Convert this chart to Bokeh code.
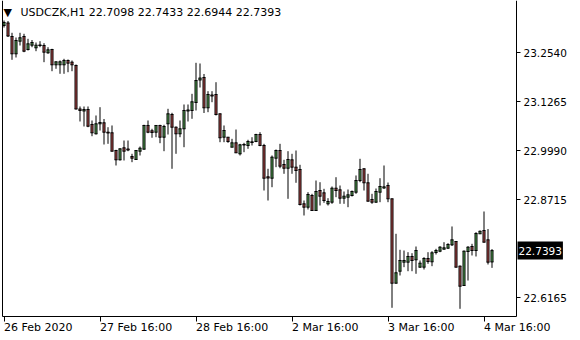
from bokeh.plotting import figure
from bokeh.models import (Range1d, FixedTicker, PrintfTickFormatter, ColumnDataSource,
                          LabelSet, Label, LinearAxis)
from bokeh.core.properties import value
from bokeh.embed import file_html
from bokeh.resources import INLINE

symbol_title = "USDCZK,H1  22.7098 22.7433 22.6944 22.7393"

opens = [23.3251, 23.3316, 23.2964, 23.2514, 23.2842, 23.2964, 23.2626, 23.2738, 23.2670, 23.2730,
         23.2730, 23.2540, 23.2626, 23.2228, 23.2228, 23.2228, 23.2340, 23.2296, 23.2210, 23.1078,
         23.1026, 23.1065, 23.0675, 23.0433, 23.0693, 23.0719, 23.0474, 23.0459, 22.9998, 22.9756,
         23.0068, 23.0037, 22.9842, 22.9764, 22.9980, 23.0032, 23.0649, 23.0511, 23.0474, 23.0649,
         23.0344, 23.0693, 23.0935, 23.0604, 23.0433, 23.0563, 23.1026, 23.1039, 23.1247, 23.1832,
         23.1897, 23.1109, 23.1442, 23.1455, 23.0953, 23.0344, 23.0344, 23.0084, 23.0198, 22.9912,
         23.0141, 23.0128, 23.0206, 23.0232, 23.0414, 23.0128, 22.9314, 22.9277, 22.9798, 22.9998,
         22.9634, 22.9537, 22.9756, 22.9564, 22.9504, 22.8611, 22.8523, 22.8827, 22.8437, 22.8957,
         22.8897, 22.8611, 22.8653, 22.9017, 22.8975, 22.8757, 22.8783, 22.8827, 22.8913, 22.9217,
         22.9522, 22.9158, 22.8723, 22.8653, 22.8913, 22.9022, 22.9087, 22.8741, 22.6545, 22.6857,
         22.7092, 22.7092, 22.7240, 22.7154, 22.6962, 22.6962, 22.7188, 22.7102, 22.7344, 22.7378,
         22.7430, 22.7456, 22.7544, 22.7630, 22.6988, 22.6485, 22.7370, 22.7500, 22.7396, 22.7831,
         22.7916, 22.7674, 22.7098]
highs = [23.3381, 23.3368, 23.3061, 23.2938, 23.3061, 23.3035, 23.2904, 23.2873, 23.2808, 23.2842,
         23.2790, 23.2686, 23.2644, 23.2314, 23.2340, 23.2384, 23.2366, 23.2340, 23.2236, 23.1143,
         23.1143, 23.1143, 23.0779, 23.0909, 23.1125, 23.0818, 23.0604, 23.0649, 23.0016, 23.0050,
         23.0258, 23.0258, 22.9912, 22.9998, 23.0102, 23.0667, 23.0779, 23.0563, 23.0649, 23.0667,
         23.0667, 23.1083, 23.0979, 23.0623, 23.0779, 23.1195, 23.1195, 23.1473, 23.2280, 23.2262,
         23.1989, 23.1541, 23.1541, 23.1775, 23.0961, 23.0649, 23.0349, 23.0302, 23.0544, 23.0172,
         23.0198, 23.0277, 23.0344, 23.0433, 23.0474, 23.0172, 22.9522, 22.9868, 23.0024, 23.0172,
         22.9756, 22.9980, 22.9912, 22.9998, 22.9626, 22.8697, 22.8913, 22.8871, 22.9217, 22.9173,
         22.9001, 22.8757, 22.9061, 22.9303, 22.9087, 22.8931, 22.8983, 22.8957, 22.9348, 22.9782,
         22.9537, 22.9392, 22.8871, 22.9009, 22.9277, 22.9608, 22.9165, 22.8749, 22.7831, 22.7414,
         22.7396, 22.7352, 22.7326, 22.7500, 22.7136, 22.7222, 22.7352, 22.7378, 22.7440, 22.7508,
         22.7612, 22.7586, 22.8021, 22.7643, 22.7006, 22.7396, 22.7508, 22.7570, 22.7872, 22.7916,
         22.8411, 22.7955, 22.7433]
lows = [23.3198, 23.2951, 23.2358, 23.2418, 23.2730, 23.2556, 23.2600, 23.2686, 23.2582, 23.2686,
        23.2296, 23.2514, 23.2061, 23.2124, 23.1994, 23.1994, 23.2035, 23.2061, 23.1065, 23.0753,
        23.0623, 23.0604, 23.0370, 23.0414, 23.0518, 23.0154, 23.0172, 22.9972, 22.9608, 22.9738,
        22.9738, 22.9980, 22.9694, 22.9756, 22.9868, 23.0024, 23.0448, 23.0329, 23.0344, 23.0188,
        22.9980, 23.0414, 22.9522, 22.9912, 23.0344, 23.0084, 23.0753, 23.0823, 23.1039, 23.1637,
        23.0974, 23.0995, 23.1255, 23.0909, 23.0214, 23.0214, 23.0198, 23.0084, 22.9933, 22.9868,
        22.9954, 23.0042, 23.0128, 23.0214, 23.0110, 22.8957, 22.8697, 22.9043, 22.9564, 22.9537,
        22.9392, 22.8741, 22.9392, 22.9158, 22.8567, 22.8307, 22.8463, 22.8424, 22.8424, 22.8567,
        22.8637, 22.8567, 22.8611, 22.8783, 22.8611, 22.8611, 22.8523, 22.8801, 22.8871, 22.9173,
        22.8957, 22.8671, 22.8611, 22.8637, 22.8653, 22.9001, 22.8653, 22.5905, 22.6537, 22.6746,
        22.6962, 22.6857, 22.6857, 22.6790, 22.6946, 22.6902, 22.7050, 22.6988, 22.7292, 22.7352,
        22.7422, 22.7440, 22.7513, 22.6954, 22.5879, 22.6472, 22.6615, 22.7266, 22.7240, 22.7825,
        22.7604, 22.7032, 22.6944]
closes = [23.3329, 23.2977, 23.2514, 23.2860, 23.2931, 23.2582, 23.2774, 23.2808, 23.2738, 23.2743,
          23.2556, 23.2618, 23.2228, 23.2306, 23.2306, 23.2340, 23.2270, 23.2228, 23.1078, 23.1039,
          23.1065, 23.0630, 23.0459, 23.0693, 23.0727, 23.0474, 23.0453, 22.9980, 22.9756, 23.0042,
          22.9980, 23.0011, 22.9798, 22.9998, 23.0058, 23.0649, 23.0474, 23.0466, 23.0649, 23.0344,
          23.0623, 23.0953, 23.0604, 23.0433, 23.0563, 23.1039, 23.1052, 23.1265, 23.1819, 23.1884,
          23.1109, 23.1455, 23.1416, 23.0935, 23.0329, 23.0518, 23.0232, 23.0198, 22.9938, 23.0146,
          23.0154, 23.0232, 23.0224, 23.0414, 23.0128, 22.9277, 22.9282, 22.9824, 22.9998, 22.9590,
          22.9537, 22.9764, 22.9564, 22.9478, 22.8593, 22.8523, 22.8853, 22.8437, 22.8931, 22.8809,
          22.8697, 22.8671, 22.9017, 22.8957, 22.8757, 22.8809, 22.8845, 22.8931, 22.9217, 22.9504,
          22.9158, 22.8679, 22.8653, 22.8931, 22.9061, 22.9053, 22.8741, 22.6545, 22.6816, 22.7136,
          22.7136, 22.7240, 22.7136, 22.7396, 22.7066, 22.7188, 22.7110, 22.7336, 22.7396, 22.7482,
          22.7466, 22.7552, 22.7674, 22.6962, 22.6467, 22.7378, 22.7482, 22.7396, 22.7838, 22.7896,
          22.7612, 22.7092, 22.7393]

time_tick_bars = [0, 24, 48, 72, 96, 120]
time_tick_labels = ["26 Feb 2020", "27 Feb 16:00", "28 Feb 16:00", "2 Mar 16:00", "3 Mar 16:00", "4 Mar 16:00"]
price_ticks = [23.2540, 23.1265, 22.9990, 22.8715, 22.6165]
last_price = closes[-1]

# visible chart window (bars / prices) inside the MT4-like frame
bar_lo, bar_hi = -0.375, 128.125
price_lo, price_hi = 22.5679, 23.3901
half_body = 0.25  # body half width in bar units (3 px wide candle body)

BULL = "#33DD33"
BEAR = "#FF2020"
FONT = "DejaVu Sans"

idx = list(range(len(opens)))
src = ColumnDataSource(dict(
    x=idx,
    xl=[i - half_body for i in idx],
    xr=[i + half_body for i in idx],
    o=opens, h=highs, l=lows, c=closes,
    top=[max(a, b) for a, b in zip(opens, closes)],
    bot=[min(a, b) for a, b in zip(opens, closes)],
    col=[BULL if c >= o else BEAR for o, c in zip(opens, closes)],
))

# the frame covers the whole canvas; axes are pinned at the chart window edges
p = figure(width=580, height=340, output_backend="svg", toolbar_location=None,
           x_range=Range1d(-0.875, 144.125), y_range=Range1d(22.50543, 23.3901),
           x_axis_type=None, y_axis_type=None,
           min_border_left=0, min_border_right=0, min_border_top=0, min_border_bottom=0)
p.background_fill_color = "white"
p.border_fill_color = "white"
p.outline_line_color = None
p.grid.visible = False

# wick
p.segment(x0="x", y0="l", x1="x", y1="h", source=src, line_color="black", line_width=1)
# body: coloured core, black sides, black top/bottom
p.segment(x0="x", y0="bot", x1="x", y1="top", source=src, line_color="col", line_width=1)
p.segment(x0="xl", y0="bot", x1="xl", y1="top", source=src, line_color="black", line_width=1)
p.segment(x0="xr", y0="bot", x1="xr", y1="top", source=src, line_color="black", line_width=1)
p.segment(x0="xl", y0="top", x1="xr", y1="top", source=src, line_color="black",
          line_width=1, line_cap="square")
p.segment(x0="xl", y0="bot", x1="xr", y1="bot", source=src, line_color="black",
          line_width=1, line_cap="square")

ya = LinearAxis(fixed_location=bar_hi, bounds=(price_lo, price_hi))
ya.ticker = FixedTicker(ticks=price_ticks)
ya.formatter = PrintfTickFormatter(format="%.4f")
ya.major_tick_in = 0
ya.major_tick_out = 4
ya.minor_tick_line_color = None
ya.axis_line_color = "black"
ya.major_label_standoff = 3
ya.major_label_text_font = FONT
ya.major_label_text_font_size = "10.5px"
ya.major_label_text_color = "black"
p.add_layout(ya, "right")

xa = LinearAxis(fixed_location=price_lo, bounds=(bar_lo, bar_hi))
xa.ticker = FixedTicker(ticks=time_tick_bars)
xa.major_tick_in = 0
xa.major_tick_out = 5
xa.minor_tick_line_color = None
xa.axis_line_color = "black"
xa.major_label_text_color = None
p.add_layout(xa, "below")

la = LinearAxis(fixed_location=bar_lo, bounds=(price_lo, price_hi))
la.ticker = FixedTicker(ticks=[])
la.major_tick_line_color = None
la.minor_tick_line_color = None
la.major_label_text_color = None
la.axis_line_color = "black"
p.add_layout(la, "left")

lab_src = ColumnDataSource(dict(x=time_tick_bars, y=[13] * len(time_tick_bars), t=time_tick_labels))
p.add_layout(LabelSet(x="x", y="y", y_units="screen", text="t", source=lab_src,
                      text_align="left", text_baseline="middle",
                      text_font=value(FONT), text_font_size=value("11px"), text_color="black"))

p.add_layout(Label(x=517, y=last_price, x_units="screen", y_units="data",
                   text=f"{last_price:.4f}", text_align="left", text_baseline="middle",
                   text_font=FONT, text_font_size="10.5px", text_color="white",
                   background_fill_color="black", padding=(1, 5)))

p.add_layout(Label(x=3, y=328, x_units="screen", y_units="screen", text="\u25BC",
                   text_align="left", text_baseline="middle", text_font=FONT,
                   text_font_size="11px", text_color="black"))
p.add_layout(Label(x=20, y=328, x_units="screen", y_units="screen", text=symbol_title,
                   text_align="left", text_baseline="middle", text_font=FONT,
                   text_font_size="11px", text_color="black"))

open("out.html", "w").write(file_html(p, INLINE))
